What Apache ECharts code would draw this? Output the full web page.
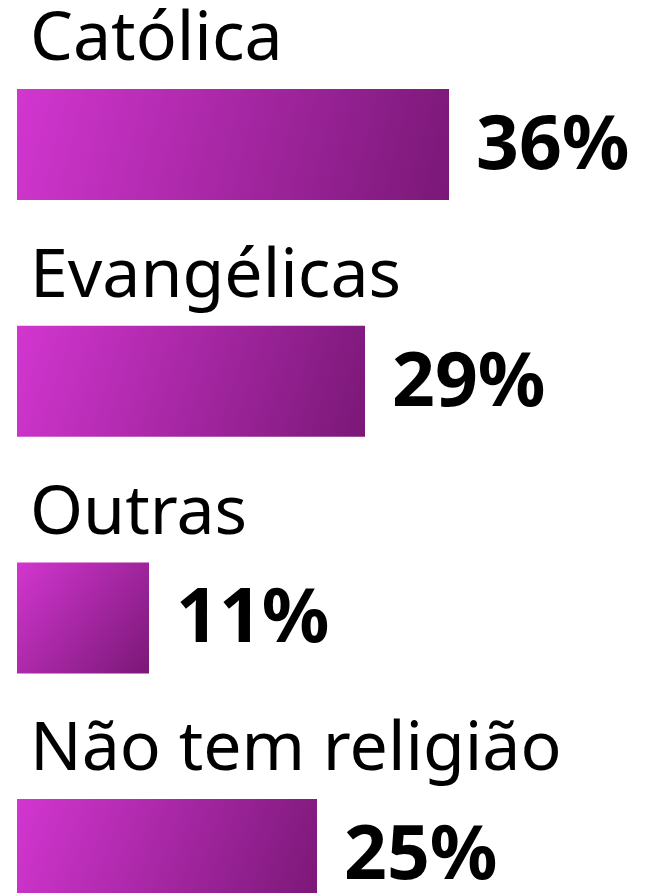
<!DOCTYPE html>
<html>
<head>
<meta charset="utf-8">
<script src="https://cdn.jsdelivr.net/npm/echarts@6/dist/echarts.min.js"></script>
<style>
html,body{margin:0;padding:0;background:#fff;}
#chart{width:646px;height:893px;}
</style>
</head>
<body>
<div id="chart"></div>
<script>
const categories = ['Católica', 'Evangélicas', 'Outras', 'Não tem religião'];
const values = [36, 29, 11, 25];
const valueLabels = ['36%', '29%', '11%', '25%'];

const chart = echarts.init(document.getElementById('chart'), null, {renderer: 'canvas'});
const grad = new echarts.graphic.LinearGradient(0, 0, 1, 1, [
  {offset: 0, color: '#d236d0'},
  {offset: 1, color: '#7a1877'}
]);
chart.setOption({
  animation: false,
  backgroundColor: '#ffffff',
  grid: {left: 17, right: 29, top: 26.2, height: 946.7, containLabel: false, outerBoundsMode: 'none'},
  xAxis: {type: 'value', min: 0, max: 50, show: false},
  yAxis: {type: 'category', data: categories, inverse: true, show: false},
  series: [
    {
      type: 'bar',
      data: values,
      barWidth: 111,
      itemStyle: {color: grad},
      label: {
        show: true,
        position: 'right',
        distance: 27,
        offset: [0, 3],
        formatter: p => valueLabels[p.dataIndex],
        color: '#000',
        fontFamily: 'Noto Sans',
        fontWeight: 'bold',
        fontSize: 75
      }
    },
    {
      type: 'bar',
      data: values,
      barWidth: 111,
      barGap: '-100%',
      itemStyle: {color: 'rgba(0,0,0,0)'},
      label: {
        show: true,
        position: [13, -48],
        align: 'left',
        verticalAlign: 'middle',
        formatter: p => categories[p.dataIndex],
        color: '#000',
        fontFamily: 'Noto Sans',
        fontWeight: 'normal',
        fontSize: 68
      }
    }
  ]
});
</script>
</body>
</html>
